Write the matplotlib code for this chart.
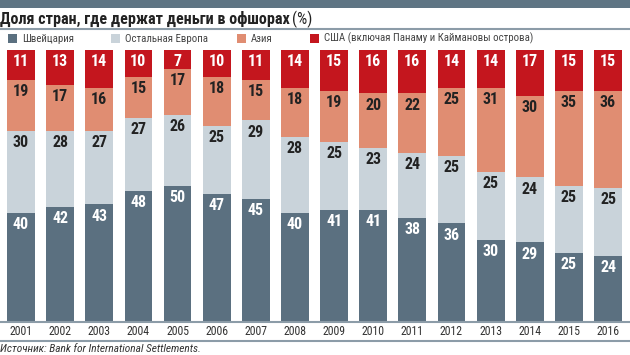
import numpy as np
import matplotlib
matplotlib.use('Agg')
import matplotlib.pyplot as plt
from matplotlib import font_manager

years = ['2001', '2002', '2003', '2004', '2005', '2006', '2007', '2008',
         '2009', '2010', '2011', '2012', '2013', '2014', '2015', '2016']
swiss = [40, 42, 43, 48, 50, 47, 45, 40, 41, 41, 38, 36, 30, 29, 25, 24]
europe = [30, 28, 27, 27, 26, 25, 29, 28, 25, 23, 24, 25, 25, 24, 25, 25]
asia = [19, 17, 16, 15, 17, 18, 15, 18, 19, 20, 22, 25, 31, 30, 35, 36]
usa = [11, 13, 14, 10, 7, 10, 11, 14, 15, 16, 16, 14, 14, 17, 15, 15]
series_names = ['Швейцария', 'Остальная Европа', 'Азия',
                'США (включая Панаму и Каймановы острова)']

colors = ['#5b7080', '#c9d3da', '#e08d72', '#c4161e']
text_colors = ['white', '#222222', '#222222', 'white']

# pick a narrow face if one is installed
installed = {f.name for f in font_manager.fontManager.ttflist}
narrow = 'Liberation Sans'
for name in ['Liberation Sans Narrow', 'DejaVu Sans Condensed', 'Roboto Condensed',
             'Open Sans Condensed', 'Liberation Sans']:
    if name in installed:
        narrow = name
        break
plt.rcParams['font.family'] = [narrow, 'DejaVu Sans']

W, H = 630, 355
fig = plt.figure(figsize=(W / 100, H / 100), dpi=100, facecolor='white')
ax = fig.add_axes([0, (H - 321) / H, 1, (321 - 50) / H])

x = np.arange(len(years))
bottom = np.zeros(len(years))
for vals, c, tc in zip([swiss, europe, asia, usa], colors, text_colors):
    vals = np.array(vals, dtype=float)
    ax.bar(x, vals, 0.71, bottom=bottom, color=c, lw=0)
    for xi, b, v in zip(x, bottom, vals):
        ax.annotate(f'{int(v)}', (xi, b + v), xytext=(0, -3), textcoords='offset points',
                    ha='center', va='top', fontsize=11.5, fontweight='bold', color=tc)
    bottom += vals

ax.set_xlim(-0.537, 15.562)
ax.set_ylim(0, 100)
ax.axis('off')

line_c = '#8c9ca8'
fig.add_artist(plt.Rectangle((0, 1 - 8 / H), 1, 8 / H, transform=fig.transFigure, color='#5f7584', lw=0))
fig.add_artist(plt.Line2D([0, 1], [1 - 29 / H] * 2, transform=fig.transFigure, color=line_c, lw=1.5))
fig.add_artist(plt.Line2D([0, 1], [1 - 321.5 / H] * 2, transform=fig.transFigure, color=line_c, lw=1.5))
fig.add_artist(plt.Line2D([0, 1], [1 - 340.5 / H] * 2, transform=fig.transFigure, color=line_c, lw=1.5))

# title
t = fig.text(0, 1 - 19 / H, 'Доля стран, где держат деньги в офшорах', fontsize=11.6,
             fontweight='bold', color='#222222', va='center', ha='left')
fig.canvas.draw()
bb = t.get_window_extent()
fig.text(bb.x1 / W + 2 / W, 1 - 19 / H, '(%)', fontsize=11.6, color='#222222', va='center', ha='left')

# legend
leg_x = [8, 111, 237, 310]
for lx, name, c in zip(leg_x, series_names, colors):
    fig.add_artist(plt.Rectangle((lx / W, 1 - 43 / H), 9 / W, 9 / H,
                                 transform=fig.transFigure, color=c, lw=0))
    fig.text((lx + 14) / W, 1 - 38.7 / H, name, fontsize=7.8, color='#444444', va='center', ha='left')

# year labels
for xi, yr in zip(x, years):
    px = ax.transData.transform((xi, 0))[0]
    fig.text(px / W, 1 - 331.5 / H, yr, fontsize=8.5, color='#333333', ha='center', va='center')

fig.text(0, 1 - 349 / H, 'Источник: Bank for International Settlements.', fontsize=8.2,
         style='italic', color='#333333', ha='left', va='center')

plt.savefig('out.png', dpi=100, facecolor='white')
plt.close(fig)
